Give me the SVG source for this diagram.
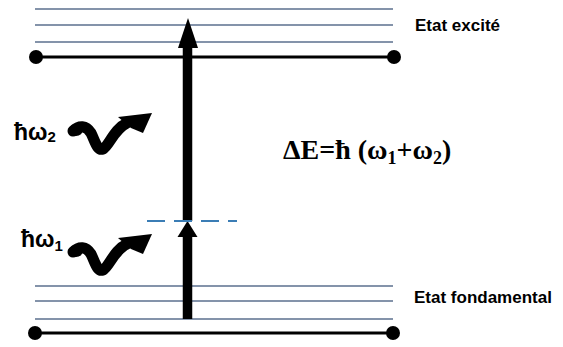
<svg xmlns="http://www.w3.org/2000/svg" width="563" height="347" viewBox="0 0 563 347">
<style>
.lvl{stroke:#5b6f8e;stroke-width:1.6;fill:none}
.base{stroke:#000;stroke-width:3;fill:none}
.dot{fill:#000}
.lbl{font-family:"Liberation Sans",Arial,sans-serif;font-weight:bold;font-size:17px;fill:#000}
.hw{font-family:"Liberation Sans",Arial,sans-serif;font-weight:bold;font-size:23px;fill:#000}
.eq{font-family:"Liberation Serif","Times New Roman",serif;font-weight:bold;font-size:28px;fill:#000}
.shaft{stroke:#000;stroke-width:9.5;fill:none}
.dash{stroke:#3b7db5;stroke-width:2;stroke-dasharray:18 9;fill:none}
</style>
<defs>
<g id="photon">
<path d="M73,131 C79,125 86,125 91,133 C95,141 97,151 103,149 C109,146 114,129 127,123" stroke="#000" stroke-width="11" stroke-linecap="round" fill="none"/>
<ellipse cx="76" cy="130" rx="7" ry="6" fill="#000"/>
<polygon points="118,117 152,113 143,133 131,128" fill="#000"/>
</g>
</defs>
<g id="excited">
<line class="lvl" x1="35" y1="9" x2="393" y2="9"/>
<line class="lvl" x1="35" y1="25" x2="393" y2="25"/>
<line class="lvl" x1="35" y1="42" x2="393" y2="42"/>
<line class="base" x1="36" y1="57" x2="394" y2="57"/>
<circle class="dot" cx="36" cy="57" r="7"/>
<circle class="dot" cx="394" cy="57" r="7"/>
<text class="lbl" x="415" y="31">Etat excité</text>
</g>
<g id="ground">
<line class="lvl" x1="35" y1="286" x2="393" y2="286"/>
<line class="lvl" x1="35" y1="301" x2="393" y2="301"/>
<line class="lvl" x1="35" y1="319" x2="393" y2="319"/>
<line class="base" x1="35" y1="333" x2="393" y2="333"/>
<circle class="dot" cx="35" cy="333" r="7"/>
<circle class="dot" cx="393" cy="333" r="7"/>
<text class="lbl" x="414" y="303">Etat fondamental</text>
</g>
<g id="connectors">
<line class="shaft" x1="187.5" y1="46" x2="187.5" y2="221"/>
<polygon points="188,18 198,48 178,48" fill="#000"/>
<line class="shaft" x1="187.5" y1="235" x2="187.5" y2="319"/>
<polygon points="187.5,221 197.5,237 177.5,237" fill="#000"/>
<line class="dash" x1="147" y1="221" x2="237" y2="221"/>
</g>
<g id="photon2">
<use href="#photon"/>
<text class="hw" x="14" y="140">ħω<tspan font-size="15" dy="2">2</tspan></text>
</g>
<g id="photon1">
<use href="#photon" transform="translate(0,121)"/>
<text class="hw" x="21" y="247">ħω<tspan font-size="15" dy="4">1</tspan></text>
</g>
<g id="equation">
<text class="eq" x="283" y="159">ΔE=ħ (ω<tspan font-size="18" dy="5">1</tspan><tspan dy="-5">+ω</tspan><tspan font-size="18" dy="5">2</tspan><tspan dy="-5">)</tspan></text>
</g>
</svg>
